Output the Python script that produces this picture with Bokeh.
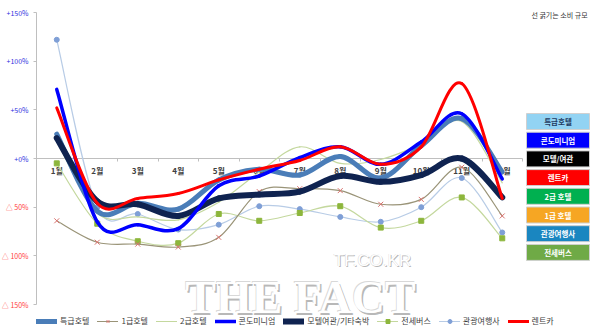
import numpy as np
from bokeh.plotting import figure
from bokeh.models import Range1d, FixedTicker, Legend, LegendItem, Label
from bokeh.core.properties import value
from bokeh.embed import file_html
from bokeh.resources import INLINE

FONT = "Noto Sans CJK KR"

# ---------------- data ----------------
months = ["1월", "2월", "3월", "4월", "5월", "6월", "7월", "8월", "9월", "10월", "11월", "12월"]
tick_vals = [-150, -100, -50, 0, 50, 100, 150]
tick_labels = ["△ 150%", "△ 100%", "△ 50%", "+0%", "+50%", "+100%", "+150%"]

deluxe_hotel = [25, -54, -46, -52, -22, -11, -17, 2, -20, 13, 41, -14]        # 특급호텔
first_hotel = [-64, -86, -88, -91, -81, -34, -31, -33, -47, -42, -9, -59]     # 1급호텔
second_hotel = [18, -56, -60, -63, -45, -14, 12, -5, -1, 15, 38, -25]         # 2급호텔
condo = [71, -65, -68, -72, -28, -18, 1, 12, -6, 17, 46, -21]                 # 콘도미니엄
motel = [21, -44, -47, -59, -41, -37, -34, -18, -24, -17, 0, -40]             # 모텔여관/기타숙박
charter_bus = [-5, -67, -85, -87, -57, -64, -56, -49, -71, -64, -40, -82]     # 전세버스
travel_agency = [122, -50, -57, -73, -68, -49, -52, -60, -65, -50, -20, -76]  # 관광여행사
rent_car = [52, -46, -41, -36, -22, -11, -2, 12, -6, 12, 77, -41]             # 렌트카

box_labels = ["특급호텔", "콘도미니엄", "모텔/여관", "렌트카", "2급 호텔", "1급 호텔", "관광여행사", "전세버스"]
box_colors = ["#92D3F3", "#0000FF", "#000000", "#FF0000", "#00B050", "#F6A623", "#1A86C0", "#6FAA46"]
box_text_colors = ["#1F3A5F", "white", "white", "white", "white", "white", "white", "white"]

note_text = "선 굵기는 소비 규모"

# ---------------- layout helpers (pixel geometry; the frame fills the canvas) ----------------
W, H = 600, 329
AX_L, AX_T, AX_B = 36, 12, 304
PX_PER_X = 40.5
PX_PER_Y = (AX_B - AX_T) / 300.0


def px_to_x(px):
    return 0.5 + (px - AX_L) / PX_PER_X


def px_to_y(py):
    return 150 - (py - AX_T) / PX_PER_Y


xs = list(range(1, len(months) + 1))

p = figure(width=W, height=H, x_range=Range1d(px_to_x(0), px_to_x(W)),
           y_range=Range1d(px_to_y(H), px_to_y(0)),
           output_backend="svg", toolbar_location=None,
           min_border_left=0, min_border_right=0, min_border_top=0, min_border_bottom=0)
p.outline_line_color = None
p.grid.visible = False
p.background_fill_color = "white"
p.border_fill_color = "white"

# watermark (drawn first, behind everything)
for dx, dy, col in [(1.5, -1.5, "#B8B8B8"), (-0.8, 0.8, "#D8D8D8"), (0, 0, "white")]:
    p.add_layout(Label(x=px_to_x(300), y=px_to_y(297), x_offset=dx, y_offset=dy, text="THE FACT",
                       text_align="center", text_baseline="middle",
                       text_font="Liberation Serif", text_font_style="bold",
                       text_font_size="46px", text_color=col, level="underlay"))
    p.add_layout(Label(x=px_to_x(372), y=px_to_y(260), x_offset=dx * 0.6, y_offset=dy * 0.6,
                       text="TF.CO.KR", text_align="center", text_baseline="middle",
                       text_font="Liberation Sans", text_font_size="17px", text_color=col,
                       level="underlay"))

# y axis (drawn at the left edge of the category area)
p.yaxis.fixed_location = 0.5
p.yaxis.bounds = (tick_vals[0], tick_vals[-1])
p.yaxis.ticker = FixedTicker(ticks=tick_vals)
p.yaxis.major_label_overrides = {v: (lab if v >= 0 else "") for v, lab in zip(tick_vals, tick_labels)}
p.yaxis.major_label_text_color = "#2F2FE0"
p.yaxis.major_label_text_font = FONT
p.yaxis.major_label_text_font_size = "7px"
p.yaxis.axis_line_color = "#BFBFBF"
p.yaxis.major_tick_line_color = "#BFBFBF"
p.yaxis.major_tick_out = 3
p.yaxis.major_tick_in = 0
p.yaxis.minor_tick_line_color = None
p.yaxis.major_label_standoff = 5
neg = [(v, lab) for v, lab in zip(tick_vals, tick_labels) if v < 0]
p.text(x=[0.5] * len(neg), y=[v for v, _ in neg], text=[lab for _, lab in neg], x_offset=-8,
       text_align="right", text_baseline="middle", text_font=value(FONT),
       text_font_size="7px", text_color="#FF4040")

# x axis crossing at zero
p.xaxis.fixed_location = 0
p.xaxis.bounds = (0.5, len(months) + 0.5)
p.xaxis.ticker = FixedTicker(ticks=xs, minor_ticks=[x + 0.5 for x in xs])
p.xaxis.major_label_overrides = {x: m for x, m in zip(xs, months)}
p.xaxis.major_label_text_font = FONT
p.xaxis.major_label_text_font_size = "8px"
p.xaxis.major_label_text_font_style = "bold"
p.xaxis.major_label_text_color = "#404040"
p.xaxis.major_label_standoff = 3
p.xaxis.axis_line_color = "#BFBFBF"
p.xaxis.major_tick_line_color = None
p.xaxis.major_tick_out = 0
p.xaxis.major_tick_in = 0
p.xaxis.minor_tick_line_color = "#BFBFBF"
p.xaxis.minor_tick_out = 3
p.xaxis.minor_tick_in = 0
p.xaxis.level = "underlay"
p.yaxis.level = "underlay"


def bez(vals, t=1.0):
    P = list(zip(xs, vals))
    n = len(P)
    d = {k: [] for k in ["x0", "y0", "x1", "y1", "cx0", "cy0", "cx1", "cy1"]}
    for i in range(n - 1):
        p0 = P[i - 1] if i > 0 else P[i]
        p1, p2 = P[i], P[i + 1]
        p3 = P[i + 2] if i + 2 < n else P[i + 1]
        d["x0"].append(p1[0]); d["y0"].append(p1[1])
        d["x1"].append(p2[0]); d["y1"].append(p2[1])
        d["cx0"].append(p1[0] + (p2[0] - p0[0]) / 6 * t)
        d["cy0"].append(p1[1] + (p2[1] - p0[1]) / 6 * t)
        d["cx1"].append(p2[0] - (p3[0] - p1[0]) / 6 * t)
        d["cy1"].append(p2[1] - (p3[1] - p1[1]) / 6 * t)
    return d


def curve(vals, color, width):
    return p.bezier(**bez(vals), line_color=color, line_width=width, line_cap="round")


r_travel = curve(travel_agency, "#B8CCE6", 1.2)
s_travel = p.scatter(xs, travel_agency, marker="circle", size=5, fill_color="#7F9FD6", line_color="#7F9FD6")
r_bus = curve(charter_bus, "#C4D89E", 1.2)
s_bus = p.scatter(xs, charter_bus, marker="square", size=5, fill_color="#8DB63C", line_color="#8DB63C")
r_first = curve(first_hotel, "#9A9478", 1.2)
s_first = p.scatter(xs, first_hotel, marker="x", size=7, line_color="#D9726E", line_width=1)
r_second = curve(second_hotel, "#C4D89E", 1.2)
r_deluxe = curve(deluxe_hotel, "#4A7DB8", 5)
r_motel = curve(motel, "#0F2350", 6)
r_condo = curve(condo, "#0000FF", 3.5)
r_rent = curve(rent_car, "#FF0000", 3)

# right side colour boxes
box_x = [px_to_x(557.5)] * len(box_labels)
box_y = [px_to_y(121 + 18.7 * i) for i in range(len(box_labels))]
p.rect(x=box_x, y=box_y, width=63, height=16, width_units="screen", height_units="screen",
       fill_color=box_colors, line_color="#D0D0D0", line_width=1)
p.text(x=box_x, y=box_y, text=box_labels, text_align="center", text_baseline="middle",
       text_font=value(FONT), text_font_size="7.5px", text_color=box_text_colors,
       text_font_style="bold")

p.add_layout(Label(x=px_to_x(559), y=px_to_y(14), text=note_text, text_align="center",
                   text_baseline="middle", text_font=FONT, text_font_size="7px",
                   text_color="#333333"))

legend = Legend(items=[
    LegendItem(label="특급호텔", renderers=[r_deluxe]),
    LegendItem(label="1급호텔", renderers=[r_first, s_first]),
    LegendItem(label="2급호텔", renderers=[r_second]),
    LegendItem(label="콘도미니엄", renderers=[r_condo]),
    LegendItem(label="모텔여관/기타숙박", renderers=[r_motel]),
    LegendItem(label="전세버스", renderers=[r_bus, s_bus]),
    LegendItem(label="관광여행사", renderers=[r_travel, s_travel]),
    LegendItem(label="렌트카", renderers=[r_rent]),
], orientation="horizontal", location=(35, 2), margin=0, padding=1, spacing=8,
    glyph_width=21, glyph_height=10, label_height=10, label_standoff=3,
    label_text_font=FONT, label_text_font_size="8px", label_text_color="#404040",
    border_line_alpha=0, background_fill_alpha=0)
p.add_layout(legend)

open("out.html", "w").write(file_html(p, INLINE))
